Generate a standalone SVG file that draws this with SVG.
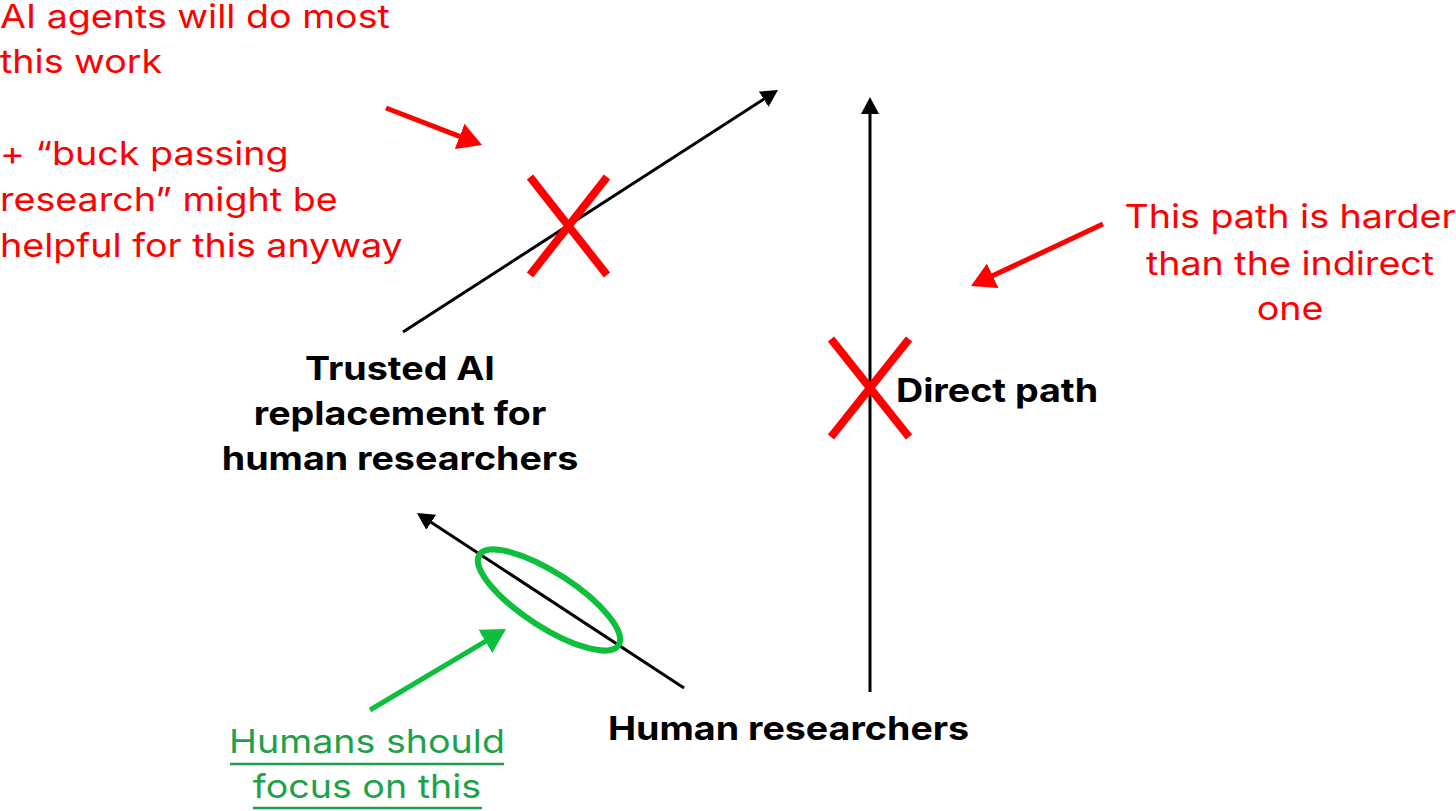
<svg xmlns="http://www.w3.org/2000/svg" width="1456" height="811" viewBox="0 0 1456 811">
  <style>
    .red { font-family: Inter, "Liberation Sans", sans-serif; font-size: 33px; fill: #ff0000; }
    .lbl { font-family: Inter, "Liberation Sans", sans-serif; font-size: 33px; font-weight: 700; fill: #000000; }
    .grn { font-family: Inter, "Liberation Sans", sans-serif; font-size: 33px; fill: #1fa14a; }
    .blk { stroke: #000000; stroke-width: 3; fill: none; }
    .rline { stroke: #ff0000; stroke-width: 5; fill: none; }
    .gline { stroke: #0dbf3c; stroke-width: 5; fill: none; }
    .xmark { stroke: #ff0000; stroke-width: 8; fill: none; }
    .uline { stroke: #1fa14a; stroke-width: 2.5; }
  </style>
  <defs>
    <marker id="headBlack" viewBox="0 0 17 18" markerWidth="17" markerHeight="18" refX="2" refY="9" orient="auto" markerUnits="userSpaceOnUse">
      <path d="M0,0 L17,9 L0,18 z" fill="#000000"/>
    </marker>
    <marker id="headRed" viewBox="0 0 24 27" markerWidth="24" markerHeight="27" refX="2" refY="13.5" orient="auto" markerUnits="userSpaceOnUse">
      <path d="M0,0 L24,13.5 L0,27 z" fill="#ff0000"/>
    </marker>
    <marker id="headGreen" viewBox="0 0 24 27" markerWidth="24" markerHeight="27" refX="2" refY="13.5" orient="auto" markerUnits="userSpaceOnUse">
      <path d="M0,0 L24,13.5 L0,27 z" fill="#0dbf3c"/>
    </marker>
  </defs>
  <rect width="1456" height="811" fill="#ffffff"/>

  <g id="connectors">
    <path class="blk" d="M403,332 L765.4,98.1" marker-end="url(#headBlack)"/>
    <path class="blk" d="M870,692 L870,112" marker-end="url(#headBlack)"/>
    <path class="blk" d="M684,688 L429.5,521.2" marker-end="url(#headBlack)"/>
  </g>

  <g id="node-trusted-ai" transform="translate(400,0) scale(1.14,1)">
    <text class="lbl" text-anchor="middle" x="0" y="380">Trusted AI</text>
    <text class="lbl" text-anchor="middle" x="0" y="425">replacement for</text>
    <text class="lbl" text-anchor="middle" x="0" y="470">human researchers</text>
  </g>

  <g id="node-human-researchers" transform="translate(608,0) scale(1.14,1)">
    <text class="lbl" x="0" y="740">Human researchers</text>
  </g>

  <g id="node-direct-path" transform="translate(896,0) scale(1.14,1)">
    <text class="lbl" x="0" y="402">Direct path</text>
  </g>

  <g id="x-marks">
    <path class="xmark" d="M530,177 L607,275 M607,177 L530,275"/>
    <path class="xmark" d="M831,339 L909,437 M909,339 L831,437"/>
  </g>

  <g id="annotation-agents">
    <g transform="scale(1.14,1)">
      <text class="red" x="0" y="28">AI agents will do most</text>
      <text class="red" x="0" y="73">this work</text>
      <text class="red" x="0" y="165">+ “buck passing</text>
      <text class="red" x="0" y="211">research” might be</text>
      <text class="red" x="0" y="257">helpful for this anyway</text>
    </g>
    <path class="rline" d="M386,108 L461.5,137.1" marker-end="url(#headRed)"/>
  </g>

  <g id="annotation-harder">
    <g transform="translate(1290,0) scale(1.14,1)">
      <text class="red" text-anchor="middle" x="0" y="228">This path is harder</text>
      <text class="red" text-anchor="middle" x="0" y="275">than the indirect</text>
      <text class="red" text-anchor="middle" x="0" y="320">one</text>
    </g>
    <path class="rline" d="M1103,224 L990.9,276.6" marker-end="url(#headRed)"/>
  </g>

  <g id="annotation-focus">
    <ellipse cx="549" cy="600" rx="83" ry="27" transform="rotate(33 549 600)" fill="none" stroke="#0dbf3c" stroke-width="6"/>
    <path class="gline" d="M370,710 L487.1,640.3" marker-end="url(#headGreen)"/>
    <g transform="translate(367,0) scale(1.14,1)">
      <text class="grn" text-anchor="middle" x="0" y="753">Humans should</text>
      <text class="grn" text-anchor="middle" x="0" y="798">focus on this</text>
    </g>
    <line class="uline" x1="230" y1="764" x2="504" y2="764"/>
    <line class="uline" x1="253" y1="808" x2="482" y2="808"/>
  </g>
</svg>
